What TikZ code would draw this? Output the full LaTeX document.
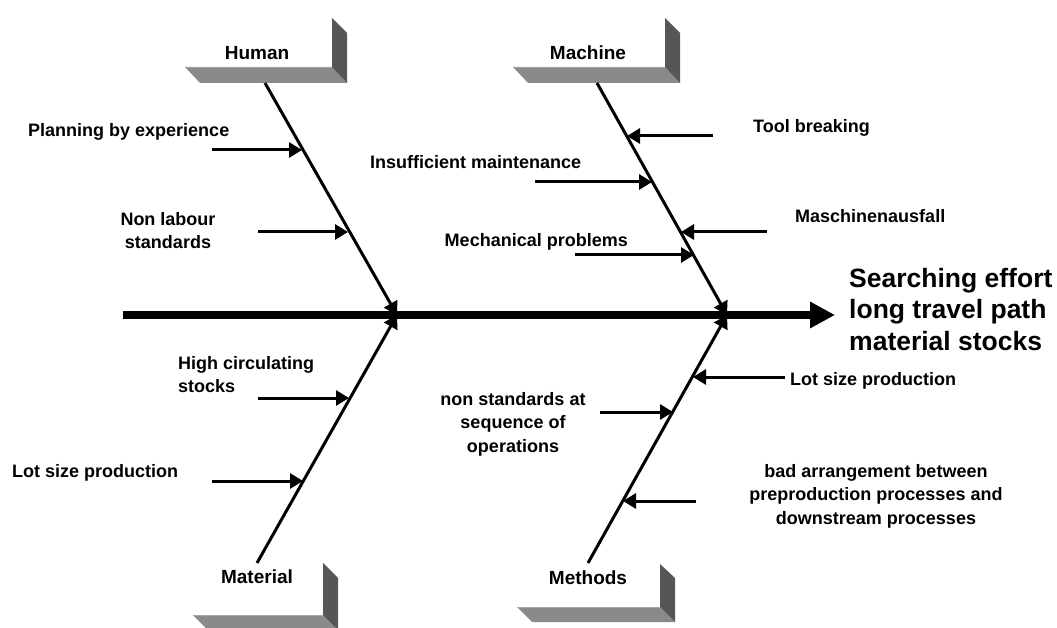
\documentclass[tikz,border=0pt]{standalone}
\usepackage{fontspec}
\setmainfont{Liberation Sans}
\usetikzlibrary{arrows.meta}
\definecolor{floorgray}{HTML}{8A8A8A}
\definecolor{floortop}{HTML}{A6A6A6}
\definecolor{wallgray}{HTML}{565656}
\tikzset{
  catlabel/.style={font=\bfseries\fontsize{19}{23}\selectfont, inner sep=0pt, anchor=base},
  causelabel/.style={font=\bfseries\fontsize{18}{23.5}\selectfont, inner sep=0pt},
  effectlabel/.style={font=\bfseries\fontsize{26.5}{31.5}\selectfont, inner sep=0pt, align=left, anchor=north west},
  bone/.style={line width=3pt, -{Triangle[length=13pt,width=15pt]}},
  feeder/.style={line width=3pt, -{Triangle[length=13pt,width=15pt]}},
  spineline/.style={line width=8.6pt, -{Triangle[length=25pt,width=25pt]}},
  floorface/.style={fill=floorgray},
  wallface/.style={fill=wallgray},
  flooredge/.style={draw=floortop, line width=1pt},
}
\begin{document}
\begin{tikzpicture}[x=1pt,y=-1pt]
\useasboundingbox (0,0) rectangle (1057,628);

% ---- category plinths (floor slab + side wall) ----
% Human
\fill[floorface] (185,67) -- (332,67) -- (347,83) -- (200,83) -- cycle;
\fill[wallface] (332,67) -- (332,18) -- (347,33) -- (347,83) -- cycle;
\draw[flooredge] (185,67.5) -- (332,67.5);
% Machine
\fill[floorface] (513,67) -- (665,67) -- (680,83) -- (528,83) -- cycle;
\fill[wallface] (665,67) -- (665,18) -- (680,33) -- (680,83) -- cycle;
\draw[flooredge] (513,67.5) -- (665,67.5);
% Material
\fill[floorface] (193,615) -- (323,615) -- (338,630) -- (208,630) -- cycle;
\fill[wallface] (323,615) -- (323,563) -- (338,578) -- (338,630) -- cycle;
\draw[flooredge] (193,615.5) -- (323,615.5);
% Methods
\fill[floorface] (517,607) -- (660,607) -- (675,622) -- (532,622) -- cycle;
\fill[wallface] (660,607) -- (660,564) -- (675,578) -- (675,622) -- cycle;
\draw[flooredge] (517,607.5) -- (660,607.5);

% ---- category labels ----
\node[catlabel] (human) at (257,60) {Human};
\node[catlabel] (machine) at (588,60) {Machine};
\node[catlabel] (material) at (257,583) {Material};
\node[catlabel] (methods) at (588,584) {Methods};

% ---- spine ----
\coordinate (spinetail) at (123,315);
\coordinate (spinehead) at (835,315);
\draw[spineline] (spinetail) -- (spinehead);
\node[effectlabel] (effect) at (849,267.7) {Searching effort\\long travel path\\material stocks};

% ---- main bones ----
\coordinate (humantop) at (265,83);
\coordinate (humanend) at (397,315);
\coordinate (machinetop) at (597,83);
\coordinate (machineend) at (727,315);
\coordinate (materialtop) at (257,563);
\coordinate (materialend) at (397,315);
\coordinate (methodstop) at (588,563);
\coordinate (methodsend) at (727,315);
\draw[bone] (humantop) -- (humanend);
\draw[bone] (machinetop) -- (machineend);
\draw[bone] (materialtop) -- (materialend);
\draw[bone] (methodstop) -- (methodsend);

% ---- causes: Human ----
\node[causelabel, anchor=base west] (planning) at (28,137) {Planning by experience};
\coordinate (planningtail) at (212,150);
\coordinate (planningtip) at (302,150);
\draw[feeder] (planningtail) -- (planningtip);

\node[causelabel, anchor=north, align=center] (nonlabour) at (168,211.9) {Non labour\\standards};
\coordinate (nonlabourtail) at (258,232);
\coordinate (nonlabourtip) at (348,232);
\draw[feeder] (nonlabourtail) -- (nonlabourtip);

% ---- causes: Machine ----
\node[causelabel, anchor=base west] (toolbreak) at (753,133) {Tool breaking};
\coordinate (toolbreaktail) at (713,136);
\coordinate (toolbreaktip) at (627,136);
\draw[feeder] (toolbreaktail) -- (toolbreaktip);

\node[causelabel, anchor=base west] (maintenance) at (370,169) {Insufficient maintenance};
\coordinate (maintenancetail) at (535,182);
\coordinate (maintenancetip) at (652,182);
\draw[feeder] (maintenancetail) -- (maintenancetip);

\node[causelabel, anchor=base west] (ausfall) at (795,223) {Maschinenausfall};
\coordinate (ausfalltail) at (767,232);
\coordinate (ausfalltip) at (681,232);
\draw[feeder] (ausfalltail) -- (ausfalltip);

\node[causelabel, anchor=base east] (mechanical) at (628,247) {Mechanical problems};
\coordinate (mechanicaltail) at (575,255);
\coordinate (mechanicaltip) at (694,255);
\draw[feeder] (mechanicaltail) -- (mechanicaltip);

% ---- causes: Material ----
\node[causelabel, anchor=north west, align=left] (circulating) at (178,355.9) {High circulating\\stocks};
\coordinate (circulatingtail) at (258,398);
\coordinate (circulatingtip) at (349,398);
\draw[feeder] (circulatingtail) -- (circulatingtip);

\node[causelabel, anchor=base west] (lotsizeleft) at (12,477) {Lot size production};
\coordinate (lotsizelefttail) at (212,481);
\coordinate (lotsizelefttip) at (303,481);
\draw[feeder] (lotsizelefttail) -- (lotsizelefttip);

% ---- causes: Methods ----
\node[causelabel, anchor=base west] (lotsizeright) at (790,385) {Lot size production};
\coordinate (lotsizerighttail) at (785,377);
\coordinate (lotsizerighttip) at (693,377);
\draw[feeder] (lotsizerighttail) -- (lotsizerighttip);

\node[causelabel, anchor=north, align=center] (sequence) at (513,391.9) {non standards at\\sequence of\\operations};
\coordinate (sequencetail) at (600,412);
\coordinate (sequencetip) at (673,412);
\draw[feeder] (sequencetail) -- (sequencetip);

\node[causelabel, anchor=north, align=center] (arrangement) at (876,463.9) {bad arrangement between\\preproduction processes and\\downstream processes};
\coordinate (arrangementtail) at (696,501);
\coordinate (arrangementtip) at (623,501);
\draw[feeder] (arrangementtail) -- (arrangementtip);
\end{tikzpicture}
\end{document}
